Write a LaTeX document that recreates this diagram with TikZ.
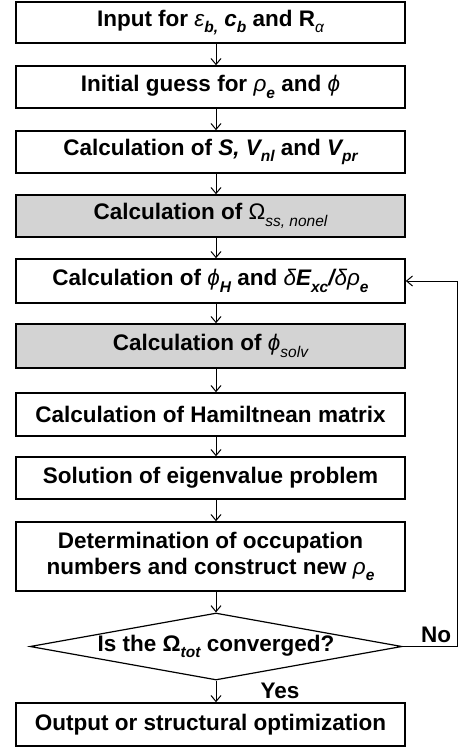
\documentclass[tikz,border=0pt]{standalone}
\usepackage{fontspec}
\setmainfont{Liberation Sans}
\usetikzlibrary{arrows.meta,shapes.geometric}
\newcommand\gi[1]{{\mdseries\itshape #1}}
\newcommand\bi[1]{{\bfseries\itshape #1}}
\newcommand\sbx[1]{\raisebox{-0.55ex}{\fontsize{15.5bp}{15.5bp}\selectfont\bfseries\itshape #1}}
\newcommand\sbl[1]{\raisebox{-0.55ex}{\fontsize{15.5bp}{15.5bp}\selectfont\mdseries\itshape #1}}
\definecolor{boxgray}{HTML}{D3D3D3}
\begin{document}
\begin{tikzpicture}[x=1bp,y=-1bp,
  font=\fontsize{22.5bp}{26bp}\selectfont\bfseries,
  stepbox/.style={draw,line width=1.5bp,minimum width=389bp,inner sep=0pt,align=center},
  graybox/.style={stepbox,fill=boxgray},
  arr/.style={line width=1bp,-{Straight Barb[length=6bp,width=10bp,line width=1bp]}},
  lbl/.style={inner sep=0pt}]
\useasboundingbox (0,0) rectangle (458,749);
\coordinate (ax) at (216,0);
\coordinate (fb) at (457,0);
\node[stepbox,minimum height=41bp] (b1) at (210.5,22.5) {Input for \gi{ε}\sbx{b,} \bi{c}\sbx{b} and R\sbl{α}};
\node[stepbox,minimum height=42bp] (b2) at (210.5,87) {Initial guess for \gi{ρ}\sbx{e} and \gi{ϕ}};
\node[stepbox,minimum height=42bp] (b3) at (210.5,152) {Calculation of \bi{S,} \bi{V}\sbx{nl} and \bi{V}\sbx{pr}};
\node[graybox,minimum height=42bp] (b4) at (210.5,216) {Calculation of {\mdseries Ω}\sbl{ss, nonel}};
\node[stepbox,minimum height=44bp] (b5) at (210.5,281) {Calculation of \gi{ϕ}\sbx{H} and \gi{δ}\bi{E}\sbx{xc}\bi{/}\gi{δρ}\sbx{e}};
\node[graybox,minimum height=44bp] (b6) at (210.5,346) {Calculation of \gi{ϕ}\sbl{solv}};
\node[stepbox,minimum height=43bp] (b7) at (210.5,414.5) {Calculation of Hamiltnean matrix};
\node[stepbox,minimum height=42bp] (b8) at (210.5,478) {Solution of eigenvalue problem};
\node[stepbox,minimum height=69bp] (b9) at (210.5,556.5) {Determination of occupation\\numbers and construct new \gi{ρ}\sbx{e}};
\node[draw,diamond,line width=1.2bp,inner sep=0pt,aspect=5.5,minimum width=372bp,minimum height=67bp] (d) at (216,646.5) {Is the Ω\sbx{tot} converged?};
\node[stepbox,minimum height=43bp] (b10) at (210.5,724.5) {Output or structural optimization};
\node[lbl] (no) at (436,635) {No};
\node[lbl] (yes) at (280,691) {Yes};
\draw[arr] (b1.south -| ax) -- (b2.north -| ax);
\draw[arr] (b2.south -| ax) -- (b3.north -| ax);
\draw[arr] (b3.south -| ax) -- (b4.north -| ax);
\draw[arr] (b4.south -| ax) -- (b5.north -| ax);
\draw[arr] (b5.south -| ax) -- (b6.north -| ax);
\draw[arr] (b6.south -| ax) -- (b7.north -| ax);
\draw[arr] (b7.south -| ax) -- (b8.north -| ax);
\draw[arr] (b8.south -| ax) -- (b9.north -| ax);
\draw[arr] (b9.south -| ax) -- (d.north);
\draw[arr] (d.south) -- (b10.north -| ax);
\draw[arr] (d.east) -- (d.east -| fb) -- (b5.east -| fb) -- (b5.east);
\end{tikzpicture}
\end{document}
